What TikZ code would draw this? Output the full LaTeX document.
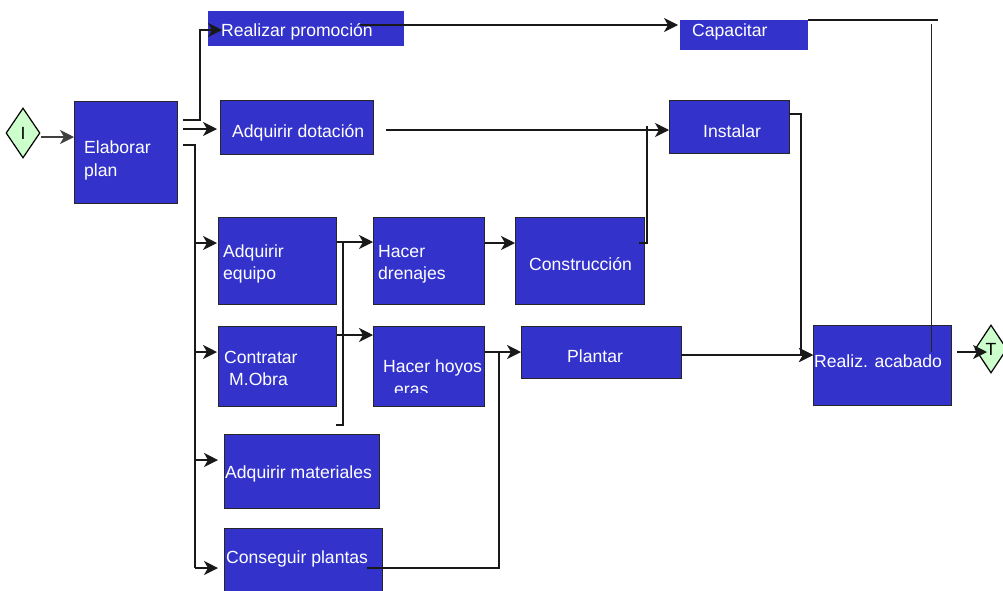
\documentclass[tikz,border=0pt]{standalone}
\usepackage{fontspec}
\setmainfont{Liberation Sans}
\usetikzlibrary{arrows.meta,shapes.geometric,calc}
\definecolor{boxblue}{RGB}{51,51,204}
\definecolor{dgreen}{RGB}{204,255,204}
\begin{document}
\begin{tikzpicture}[x=1pt,y=-1pt,
  box/.style={draw=black!85, line width=1.2pt, fill=boxblue, inner sep=0pt, anchor=north west},
  boxnb/.style={draw=none, fill=boxblue, inner sep=0pt, anchor=north west},
  txt/.style={text=white, inner sep=0pt, anchor=base west, font=\fontsize{17.6}{23}\selectfont},
  ln/.style={draw=black!90, line width=1.3pt},
  thinln/.style={draw=black!85, line width=0.8pt},
  arr/.style={ln, -{Stealth[length=14pt,width=14pt,inset=4pt]}},
  dia/.style={diamond, draw=black, line width=1.2pt, fill=dgreen, inner sep=0pt, font=\fontsize{17.6}{20}\selectfont}]
\useasboundingbox (0,0) rectangle (1003,590);
\clip (0,0) rectangle (1003,590);
\fill[white] (0,0) rectangle (1003,590);

% start / end
\node[dia, minimum width=34pt, minimum height=50pt] (I) at (23,133) {I};
\node[dia, minimum width=32pt, minimum height=48pt] (T) at (991,349) {T};

% boxes
\node[box, minimum width=103pt, minimum height=102pt] (plan) at (74,101) {};
\node[boxnb, minimum width=196pt, minimum height=35pt] (promo) at (208,11) {};
\node[box, minimum width=153pt, minimum height=54pt] (dot) at (220,100) {};
\node[boxnb, minimum width=128pt, minimum height=30pt] (cap) at (680,20) {};
\node[box, minimum width=120pt, minimum height=53pt] (inst) at (669,100) {};
\node[box, minimum width=118pt, minimum height=87pt] (eq) at (218,217) {};
\node[box, minimum width=111pt, minimum height=87pt] (dren) at (373,217) {};
\node[box, minimum width=129pt, minimum height=87pt] (cons) at (515,217) {};
\node[box, minimum width=118pt, minimum height=80pt] (mo) at (218,326) {};
\node[box, minimum width=111pt, minimum height=80pt] (hoy) at (373,326) {};
\node[box, minimum width=160pt, minimum height=52pt] (plant) at (521,326) {};
\node[box, minimum width=138pt, minimum height=80pt] (acab) at (813,325) {};
\node[box, minimum width=155pt, minimum height=74pt] (mat) at (224,434) {};
\node[box, minimum width=158pt, minimum height=80pt] (cp) at (224,528) {};

% texts
\node[txt] (tplan1) at (84,153) {Elaborar};
\node[txt] (tplan2) at (84,176) {plan};
\node[txt] (tpromo) at (221,36) {Realizar promoción};
\node[txt] (tdot) at (232,137) {Adquirir dotación};
\node[txt] (tcap) at (692,36) {Capacitar};
\node[txt] (tinst) at (703,137) {Instalar};
\node[txt] (teq1) at (223,257) {Adquirir};
\node[txt] (teq2) at (223,279) {equipo};
\node[txt] (tdren1) at (378,257) {Hacer};
\node[txt] (tdren2) at (378,279) {drenajes};
\node[txt] (tcons) at (529,270) {Construcción};
\node[txt] (tmo1) at (224,363) {Contratar};
\node[txt] (tmo2) at (229,385) {M.Obra};
\node[txt] (thoy1) at (383,372) {Hacer hoyos};
\begin{scope}
  \clip (373,326) rectangle (484,392);
  \node[txt] (thoy2) at (394,395) {eras};
\end{scope}
\node[txt] (tplant) at (567,362) {Plantar};
\node[txt] (tacab) at (814,367) {Realiz. acabado};
\node[txt] (tmat) at (225,478) {Adquirir materiales};
\node[txt] (tcp) at (226,563) {Conseguir plantas};

% free ends / bends
\coordinate (s1) at (183,120);
\coordinate (s2) at (183,129);
\coordinate (s3) at (183,145);
\coordinate (b1) at (195,243);
\coordinate (b2) at (195,352);
\coordinate (b3) at (195,460);
\coordinate (b4) at (195,568);
\coordinate (pin) at (222,30);
\coordinate (c1) at (360,25);
\coordinate (c2) at (938,20);
\coordinate (c3) at (931,24);
\coordinate (c4) at (931,352);
\coordinate (d1) at (386,130);
\coordinate (k1) at (639,243);
\coordinate (k2) at (647,126);
\coordinate (i0) at (789,114);
\coordinate (i1) at (801,355);
\coordinate (p1) at (681,355);
\coordinate (e1) at (957,352);
\coordinate (e2) at (987,352);
\coordinate (m1) at (343,242);
\coordinate (m2) at (343,425);
\coordinate (m3) at (336,425);
\coordinate (h1) at (499,352);
\coordinate (h2) at (499,568);
\coordinate (h3) at (367,568);
\coordinate (n1) at (343,335);

% connectors
\draw[arr, draw=black!75] ($(I.east)+(0,4)$) coordinate (i2) -- (i2 -| plan.west);
\draw[arr] (s1) -- (200,120) |- (pin);
\draw[arr, shorten >=3pt] (s2) -- (s2 -| dot.west);
\draw[ln] (s3) -| (b4);
\draw[arr, shorten >=1pt] (b1) -- (b1 -| eq.west);
\draw[arr, shorten >=1pt] (b2) -- (b2 -| mo.west);
\draw[arr, shorten >=6pt] (b3) -- (b3 -| mat.west);
\draw[arr, shorten >=6pt] (b4) -- (b4 -| cp.west);
\draw[arr, shorten >=2pt] (c1) -- (c1 -| cap.west);
\draw[ln] (cap.north east) -- (c2);
\draw[thinln] (c3) -- (c4);
\draw[arr] (d1) -- (d1 -| inst.west);
\draw[ln] (k1) -| (k2);
\draw[arr] (i0) -| (i1) -- (i1 -| acab.west);
\draw[arr] (p1) -- (p1 -| acab.west);
\draw[arr] (e1) -- (e2);
\draw[arr] (eq.east |- m1) -- (m1 -| dren.west);
\draw[arr] (mo.east |- n1) -- (n1 -| hoy.west);
\draw[ln] (m1) -- (m2) -- (m3);
\draw[arr] (dren.east |- k1) -- (k1 -| cons.west);
\draw[arr] (hoy.east |- h1) -- (h1 -| plant.west);
\draw[ln] (h1) -- (h2) -- (h3);
\end{tikzpicture}
\end{document}
